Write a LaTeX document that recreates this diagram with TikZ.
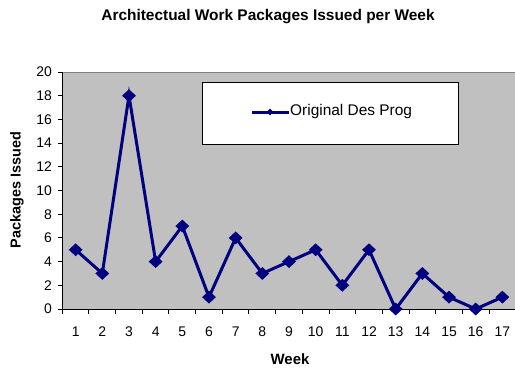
\documentclass[tikz,border=0pt]{standalone}
\usepackage{fontspec}
\setmainfont{Liberation Sans}
\usetikzlibrary{shapes.geometric}
\definecolor{navy}{RGB}{0,0,128}
\definecolor{plotgray}{RGB}{192,192,192}
\definecolor{bordergray}{RGB}{128,128,128}
\begin{document}
\begin{tikzpicture}[x=1bp,y=1bp,
  series/.style={draw=navy,line width=3bp,line join=miter},
  datamark/.style={diamond,fill=navy,draw=none,inner sep=0pt,minimum width=14bp,minimum height=13bp},
  smallmark/.style={diamond,fill=navy,draw=none,inner sep=0pt,minimum size=7bp},
  ticklab/.style={font=\fontsize{14}{16}\selectfont,inner sep=0pt},
  axislab/.style={font=\bfseries\fontsize{15}{17}\selectfont,inner sep=0pt}]
\useasboundingbox (0,0) rectangle (515,369);
\fill[white] (0,0) rectangle (515,369);
% plot area
\fill[plotgray] (62.3,60) rectangle (515,297);
\draw[bordergray,line width=1bp] (62.3,297) -- (515,297);
% legend
\node[draw=black,fill=white,line width=1bp,minimum width=256bp,minimum height=62bp,anchor=north west] (legend) at (202,287) {};
\coordinate (la) at (252,257);
\coordinate (lb) at (289,257);
\draw[navy,line width=3bp] (la) -- (lb);
\node[smallmark] (lm) at (270,257) {};
\node[ticklab,font=\fontsize{15.5}{17}\selectfont,anchor=west] (lt) at (290,257.5) {Original Des Prog};
% axes
\draw[black,line width=1bp] (62.3,60) -- (62.3,297);
\draw[black,line width=1bp] (62.3,60) -- (515,60);
\foreach \v in {0,2,...,20} {
  \draw[black,line width=1bp] (57.5,60+\v*11.85) -- (62.3,60+\v*11.85);
  \node[ticklab,anchor=east] (yl\v) at (52,60+\v*11.85) {\v};
}
\foreach \i in {0,...,17} {
  \draw[black,line width=1bp] (62.3+\i*26.67,60) -- (62.3+\i*26.67,55);
}
\foreach \i in {1,...,17} {
  \node[ticklab] (xl\i) at (62.3+\i*26.67-13.33,37) {\i};
}
% data
\foreach \v [count=\i] in {5,3,18,4,7,1,6,3,4,5,2,5,0,3,1,0,1} {
  \coordinate (p\i) at (62.3+\i*26.67-13.33,60+\v*11.85);
}
\draw[series] (p1) \foreach \i in {2,...,17} { -- (p\i) };
\foreach \i in {1,...,17} { \node[datamark] (m\i) at (p\i) {}; }
% titles
\node[axislab,font=\bfseries\fontsize{15.5}{17}\selectfont] (title) at (268,352) {Architectual Work Packages Issued per Week};
\node[axislab] (xt) at (290,10.3) {Week};
\node[axislab,font=\bfseries\fontsize{14.5}{17}\selectfont,rotate=90] (yt) at (17,179) {Packages Issued};
\end{tikzpicture}
\end{document}
